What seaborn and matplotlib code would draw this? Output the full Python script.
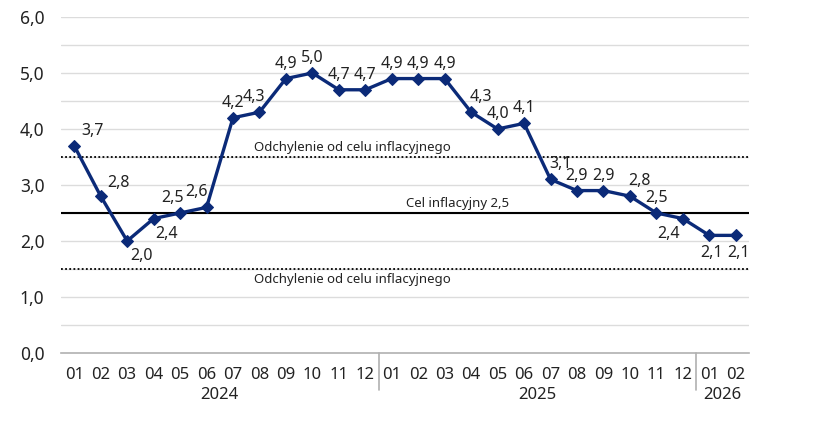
"""CPI inflation path vs NBP target band, 2024-2026"""
import matplotlib
matplotlib.use('Agg')
import matplotlib.pyplot as plt
import matplotlib.transforms as mtransforms
import numpy as np
import pandas as pd
import seaborn as sns

# data
months = ['01', '02', '03', '04', '05', '06', '07', '08', '09', '10', '11', '12',
          '01', '02', '03', '04', '05', '06', '07', '08', '09', '10', '11', '12',
          '01', '02']
years = ['2024', '2025', '2026']
year_lengths = [12, 12, 2]
inflation = [3.7, 2.8, 2.0, 2.4, 2.5, 2.6, 4.2, 4.3, 4.9, 5.0, 4.7, 4.7,
             4.9, 4.9, 4.9, 4.3, 4.0, 4.1, 3.1, 2.9, 2.9, 2.8, 2.5, 2.4,
             2.1, 2.1]
target = 2.5
band_upper = 3.5
band_lower = 1.5

NAVY = '#0b2a78'

df = pd.DataFrame({'pos': np.arange(len(inflation)), 'value': inflation})

sns.set_style('white')
plt.rcParams['font.family'] = ['Noto Sans', 'DejaVu Sans']

fig = plt.figure(figsize=(8.18, 4.33), dpi=100)
ax = fig.add_axes([0.0746, 0.1848, 0.841, 0.776])

# grid every 0.5
for g in np.arange(0.5, 6.01, 0.5):
    ax.axhline(g, color='#dcdcdc', lw=1, zorder=0)

# target and band
ax.axhline(target, color='black', lw=1.5, zorder=1)
ax.axhline(band_upper, color='black', lw=1.3, ls=(0, (1, 1.3)), zorder=1)
ax.axhline(band_lower, color='black', lw=1.3, ls=(0, (1, 1.3)), zorder=1)
ax.text(10.5, band_upper + 0.06, 'Odchylenie od celu inflacyjnego', ha='center', va='bottom',
        fontsize=9.5, color='#222222')
ax.text(10.5, band_lower - 0.08, 'Odchylenie od celu inflacyjnego', ha='center', va='top',
        fontsize=9.5, color='#222222')
ax.text(14.5, target + 0.06, 'Cel inflacyjny 2,5', ha='center', va='bottom',
        fontsize=9.5, color='#222222')

sns.lineplot(data=df, x='pos', y='value', color=NAVY, lw=2.4, marker='D',
             markersize=6.5, markeredgecolor=NAVY, ax=ax, zorder=3)

# data labels: default centred above, a few moved
special = {0: ('left', 'bottom', 5, 5), 1: ('left', 'bottom', 5, 4),
           2: ('left', 'top', 2, -5), 3: ('left', 'top', 1, -5),
           4: ('right', 'bottom', 3, 5), 5: ('right', 'bottom', 1, 5),
           7: ('center', 'bottom', -4, 5), 15: ('left', 'bottom', -1, 5),
           18: ('left', 'bottom', -1, 5), 21: ('left', 'bottom', -1, 5),
           23: ('right', 'top', -2, -5), 24: ('center', 'top', 2, -7),
           25: ('center', 'top', 2, -7)}
for i, v in enumerate(inflation):
    ha, va, dx, dy = special.get(i, ('center', 'bottom', 0, 5))
    ax.annotate(f'{v:.1f}'.replace('.', ','), (i, v), xytext=(dx, dy),
                textcoords='offset points', ha=ha, va=va, fontsize=11.5, color='#222222')

ax.set_xlim(-0.5, len(inflation) - 0.5)
ax.set_ylim(0, 6)
ax.set_yticks(np.arange(0, 6.01, 1))
ax.set_yticklabels([f'{t:.1f}'.replace('.', ',') for t in np.arange(0, 6.01, 1)],
                   fontsize=12.5, color='#222222')
ax.tick_params(axis='y', length=0, pad=12)

ax.set_xticks(np.arange(len(months)))
ax.set_xticklabels(months, fontsize=12, color='#222222')
ax.set_xticks(np.arange(-0.5, len(months), 1), minor=True)
ax.tick_params(axis='x', which='major', length=0, pad=10)
ax.tick_params(axis='x', which='minor', length=6, color='#b0b0b0', width=1)
ax.set_xlabel('')
ax.set_ylabel('')

for side in ['left', 'right', 'top']:
    ax.spines[side].set_visible(False)
ax.spines['bottom'].set_color('#b0b0b0')
ax.spines['bottom'].set_linewidth(1.2)

# year labels and separators
trans = mtransforms.blended_transform_factory(ax.transData, ax.transAxes)
start = 0
for yr, n in zip(years, year_lengths):
    ax.text(start + (n - 1) / 2, -0.1, yr, transform=trans, ha='center', va='top',
            fontsize=12, color='#222222')
    if start > 0:
        ax.plot([start - 0.5, start - 0.5], [0, -0.11], transform=trans, color='#b0b0b0',
                lw=1.2, clip_on=False)
    start += n

fig.savefig('out.png', dpi=100)
